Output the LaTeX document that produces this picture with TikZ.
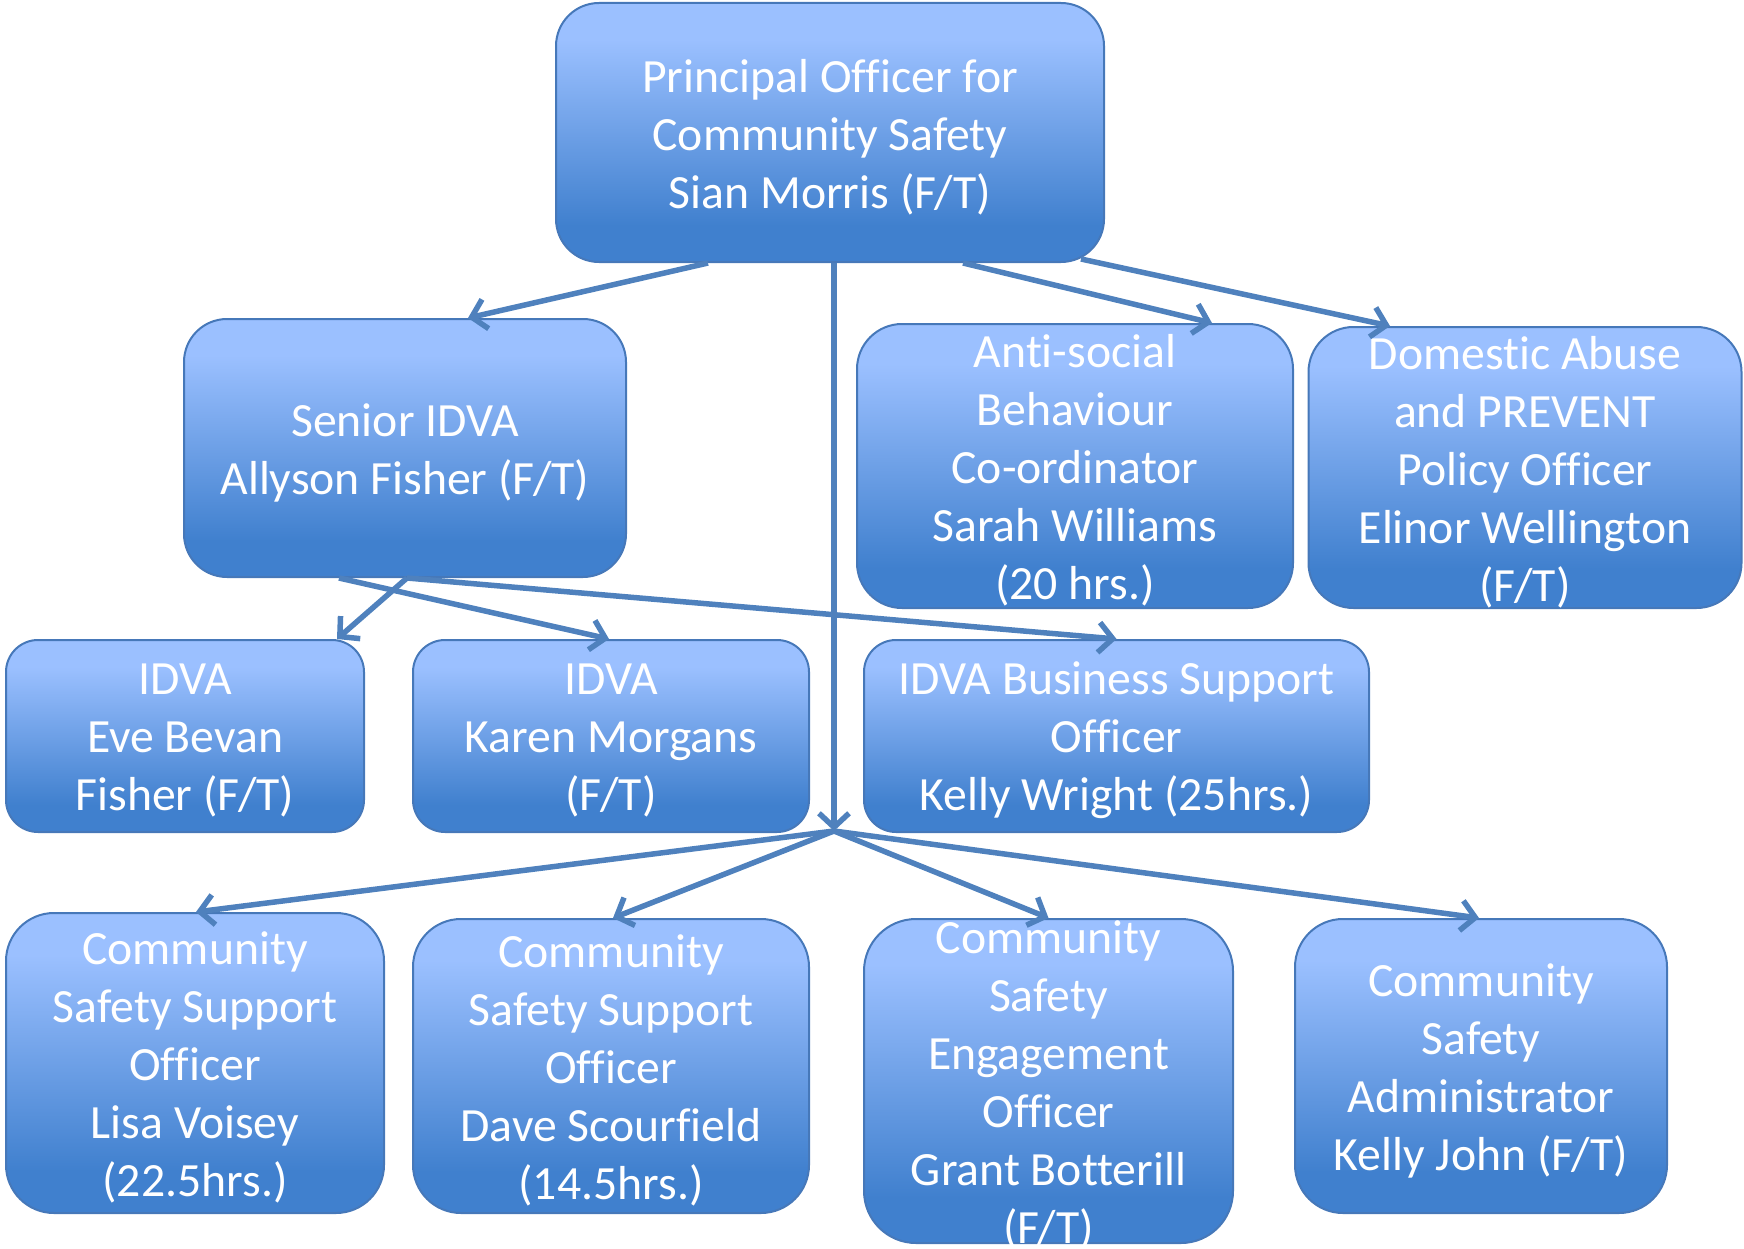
\documentclass[tikz,border=0pt]{standalone}
\usepackage{fontspec}
\setmainfont{Carlito}[Ligatures=NoCommon]
\usetikzlibrary{arrows.meta}
\definecolor{lt}{RGB}{155,192,255}
\definecolor{dk}{RGB}{64,128,206}
\definecolor{bd}{RGB}{70,120,185}
\definecolor{ln}{RGB}{79,129,189}
\pgfdeclareverticalshading{boxshade}{100bp}{color(0bp)=(dk); color(32bp)=(dk); color(68bp)=(lt); color(100bp)=(lt)}
\tikzset{
  orgbox/.style={draw=bd, line width=2pt, shading=boxshade, rounded corners=#1, inner sep=0pt},
  lbl/.style={text=white, align=center, inner sep=0pt, yshift=-4.5pt, font=\fontsize{47.7pt}{58pt}\selectfont},
  conn/.style={draw=ln, line width=5.5pt, -{Straight Barb[length=14pt,width=30pt]}}
}
\begin{document}
\begin{tikzpicture}[x=1pt,y=-1pt]
\useasboundingbox (0,0) rectangle (1744,1249);
% boxes
\node[orgbox=43pt, minimum width=548pt, minimum height=259pt] (top) at (830,132.5) {};
\node[orgbox=43pt, minimum width=442pt, minimum height=258pt] (senior) at (405,448) {};
\node[orgbox=45pt, minimum width=436pt, minimum height=284pt] (asb) at (1075,466) {};
\node[orgbox=45pt, minimum width=433pt, minimum height=281pt] (dom) at (1525,467.5) {};
\node[orgbox=32pt, minimum width=358pt, minimum height=192pt] (eve) at (185,736) {};
\node[orgbox=32pt, minimum width=396pt, minimum height=192pt] (karen) at (611,736) {};
\node[orgbox=32pt, minimum width=505pt, minimum height=192pt] (biz) at (1116.5,736) {};
\node[orgbox=48pt, minimum width=378pt, minimum height=300pt] (lisa) at (195,1063) {};
\node[orgbox=48pt, minimum width=396pt, minimum height=294pt] (dave) at (611,1066) {};
\node[orgbox=52pt, minimum width=369pt, minimum height=324pt] (eng) at (1048.5,1081) {};
\node[orgbox=48pt, minimum width=372pt, minimum height=294pt] (admin) at (1481,1066) {};
% texts
\node[lbl] (topT) at (top.center) {Principal Officer for\\Community Safety\\Sian Morris (F/T)};
\node[lbl] (seniorT) at (senior.center) {Senior IDVA\\Allyson Fisher (F/T)};
\node[lbl] (asbT) at (asb.center) {Anti-social\\Behaviour\\Co-ordinator\\Sarah Williams\\(20 hrs.)};
\node[lbl] (domT) at (dom.center) {Domestic Abuse\\and PREVENT\\Policy Officer\\Elinor Wellington\\(F/T)};
\node[lbl] (eveT) at (eve.center) {IDVA\\Eve Bevan\\Fisher (F/T)};
\node[lbl] (karenT) at (karen.center) {IDVA\\Karen Morgans\\(F/T)};
\node[lbl] (bizT) at (biz.center) {IDVA Business Support\\Officer\\Kelly Wright (25hrs.)};
\node[lbl] (lisaT) at (lisa.center) {Community\\Safety Support\\Officer\\Lisa Voisey\\(22.5hrs.)};
\node[lbl] (daveT) at (dave.center) {Community\\Safety Support\\Officer\\Dave Scourfield\\(14.5hrs.)};
\node[lbl] (engT) at (eng.center) {Community\\Safety\\Engagement\\Officer\\Grant Botterill\\(F/T)};
\node[lbl] (adminT) at (admin.center) {Community\\Safety\\Administrator\\Kelly John (F/T)};
% hub
\coordinate (hub) at (834,831);
% connectors
\draw[conn] ([xshift=-122pt]top.south) -- ([xshift=63pt]senior.north);
\draw[conn] ([xshift=4pt]top.south) -- (hub);
\draw[conn] ([xshift=133pt]top.south) -- ([xshift=137pt]asb.north);
\draw[conn] ([xshift=251pt,yshift=4pt]top.south) -- ([xshift=-135pt]dom.north);
\draw[conn] ([xshift=2pt]senior.south) -- ([xshift=152pt]eve.north);
\draw[conn] ([xshift=-66pt]senior.south) -- ([xshift=-2pt]karen.north);
\draw[conn] ([xshift=2pt]senior.south) -- (biz.north);
\draw[conn] (hub) -- ([xshift=1pt]lisa.north);
\draw[conn] (hub) -- ([xshift=2pt]dave.north);
\draw[conn] (hub) -- (eng.north);
\draw[conn] (hub) -- ([xshift=-2pt]admin.north);
\end{tikzpicture}
\end{document}
